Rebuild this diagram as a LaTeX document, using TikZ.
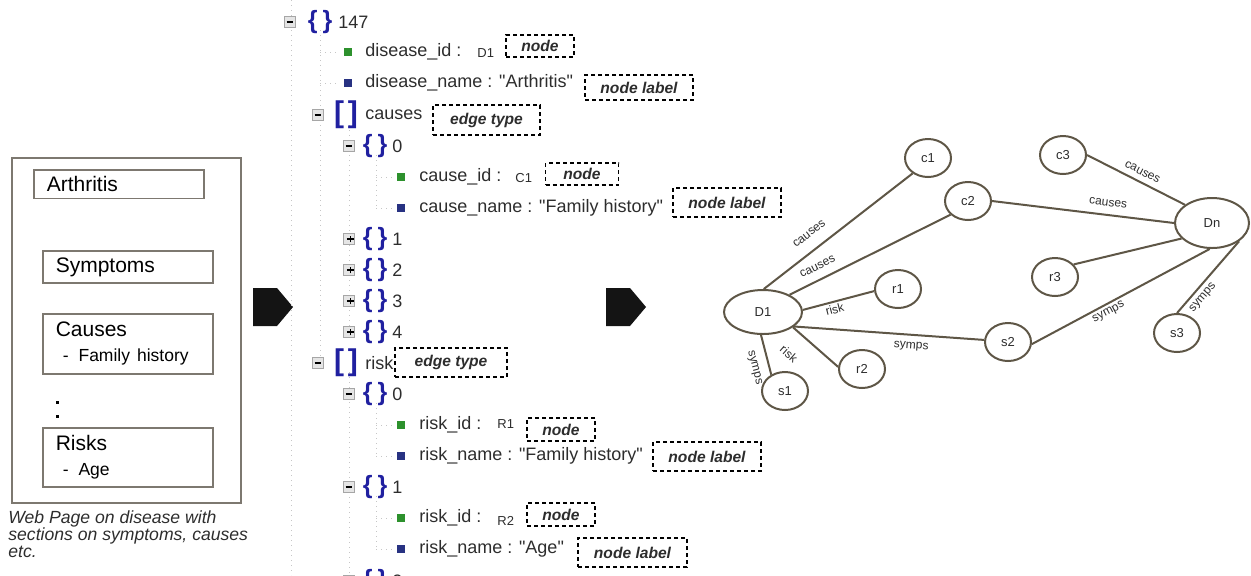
\documentclass[tikz,border=0pt]{standalone}
\usepackage{fontspec}
\setmainfont{Liberation Sans}
\usepackage{tikz}
\usetikzlibrary{shapes.geometric}
\usetikzlibrary{positioning}
\definecolor{edgecol}{RGB}{94,86,70}
\definecolor{boxcol}{RGB}{125,120,112}
\definecolor{bracecol}{RGB}{32,32,160}
\definecolor{leafgreen}{RGB}{45,145,45}
\definecolor{leafblue}{RGB}{40,50,130}
\definecolor{txtcol}{RGB}{45,45,45}
\newcommand{\tminus}{\rule{3.4pt}{0.7pt}}
\newcommand{\tplus}{\rule{3.4pt}{0.7pt}\hspace{-2.05pt}\rule[-1.35pt]{0.7pt}{3.4pt}\hspace{1.35pt}}
\newcommand{\qq}{\textquotedbl}
\tikzset{secbox/.style={draw=boxcol,line width=0.75pt,anchor=north west,minimum width=85pt,inner xsep=6.5pt,text width=72pt,align=left,font=\fontsize{10.5}{12}\selectfont},
tbox/.style={draw=gray!70,fill=gray!20,minimum size=5.5pt,inner sep=0pt},
brace/.style={text=bracecol,inner sep=0pt,font=\fontsize{12.5}{13}\bfseries},
bracket/.style={text=bracecol,inner sep=0pt,font=\fontsize{15}{15}\bfseries},
ttext/.style={anchor=west,inner sep=0pt,text=txtcol,font=\fontsize{9}{10}\selectfont},
idtext/.style={anchor=west,inner sep=0pt,text=txtcol,font=\fontsize{6.5}{7}\selectfont},
leaf/.style={minimum size=4pt,inner sep=0pt},
tag/.style={draw,dashed,dash pattern=on 2pt off 1.5pt,line width=0.6pt,inner sep=0pt,text=txtcol,font=\fontsize{7.8}{8}\bfseries\itshape},
guide/.style={draw=gray!45,dotted,line width=0.5pt},
gnode/.style={ellipse,draw=edgecol,line width=1pt,inner sep=0pt,minimum width=23pt,minimum height=19pt,text=txtcol,font=\fontsize{6.5}{7}\selectfont},
gedge/.style={draw=edgecol,line width=1pt},
elabel/.style={sloped,inner sep=1pt,text=txtcol,font=\fontsize{6}{7}\selectfont}}

\begin{document}
\begin{tikzpicture}[x=0.5pt,y=-0.5pt]
\useasboundingbox (0,0) rectangle (1251,575);
\clip (0,0) rectangle (1251,575);
\draw[boxcol,line width=0.75pt] (12,158) rectangle (241,503);
\node (sarth) at (33,169) [secbox,minimum height=13pt] {Arthritis};
\node (ssymp) at (42,250) [secbox,minimum height=11pt] {Symptoms};
\node (scause) at (42,313) [secbox,minimum height=30pt] {Causes\\[0.5pt]{\fontsize{8.75}{10}\selectfont\hspace*{3.5pt}-\hspace{5pt}Family history}};
\node (srisk) at (42,427) [secbox,minimum height=29.5pt] {Risks\\[0.5pt]{\fontsize{8.75}{10}\selectfont\hspace*{3.5pt}-\hspace{5pt}Age}};
\fill (55.5,400.5) rectangle ++(3,3);
\fill (55.5,414.5) rectangle ++(3,3);
\node (cap) at (8,510) [anchor=north west,align=left,inner sep=0pt,text=txtcol,font=\fontsize{8.8}{8.5}\itshape] {Web Page on disease with\\sections on symptoms, causes\\etc.};
\foreach \ax in {253,606}
  \fill[black!92] (\ax,288) -- ++(24,0) -- ++(16,19) -- ++(-16,19) -- ++(-24,0) -- cycle;
\draw[guide] (291,0) -- (291,575);
\draw[guide] (320,30) -- (320,363) (320,52) -- (338,52) (320,83) -- (338,83);
\draw[guide] (349,125) -- (349,332) (349,372) -- (349,575);
\foreach \yp in {146,394,487}
  \draw[guide] (376,\yp+9) -- (376,\yp+62) (376,\yp+31) -- (392,\yp+31) (376,\yp+62) -- (392,\yp+62);
\node (tg0) at (290,22) [tbox] {\tminus};
\node (br0) at (320,22) [brace] {\{\hspace{2.5pt}\}};
\node (k0) at (338,22) [ttext] {147};
\node (lf1) at (348,52) [leaf,fill=leafgreen] {};
\node (k1) at (365,52) [ttext] {disease\_id :};
\node (v1) at (477,53) [idtext] {D1};
\node (lf2) at (348,83) [leaf,fill=leafblue] {};
\node (k2) at (365,83) [ttext] {disease\_name : \qq Arthritis\qq};
\node (tgc) at (318,115) [tbox] {\tminus};
\node (brc) at (346,115) [bracket] {[\hspace{2pt}]};
\node (kc) at (365,115) [ttext] {causes};
\node (tgc0) at (349,146) [tbox] {\tminus};
\node (brc0) at (375,146) [brace] {\{\hspace{2.5pt}\}};
\node (kc0) at (392,146) [ttext] {0};
\node (lf3) at (401,177) [leaf,fill=leafgreen] {};
\node (k3) at (419,177) [ttext] {cause\_id :};
\node (v3) at (515,178) [idtext] {C1};
\node (lf4) at (401,208) [leaf,fill=leafblue] {};
\node (k4) at (419,208) [ttext] {cause\_name : \qq Family history\qq};
\foreach \k/\yy in {1/239,2/270,3/301,4/332} {
  \node (tgc\k) at (349,\yy) [tbox] {\tplus};
  \node (brc\k) at (375,\yy) [brace] {\{\hspace{2.5pt}\}};
  \node (kc\k) at (392,\yy) [ttext] {\k};
}
\node (tgr) at (318,363) [tbox] {\tminus};
\node (brr) at (346,363) [bracket] {[\hspace{2pt}]};
\node (kr) at (365,363) [ttext] {risk};
\node (tgr0) at (349,394) [tbox] {\tminus};
\node (brr0) at (375,394) [brace] {\{\hspace{2.5pt}\}};
\node (kr0) at (392,394) [ttext] {0};
\node (lf5) at (401,425) [leaf,fill=leafgreen] {};
\node (k5) at (419,425) [ttext] {risk\_id :};
\node (v5) at (497,424) [idtext] {R1};
\node (lf6) at (401,456) [leaf,fill=leafblue] {};
\node (k6) at (419,456) [ttext] {risk\_name : \qq Family history\qq};
\node (tgr1) at (349,487) [tbox] {\tminus};
\node (brr1) at (375,487) [brace] {\{\hspace{2.5pt}\}};
\node (kr1) at (392,487) [ttext] {1};
\node (lf7) at (401,518) [leaf,fill=leafgreen] {};
\node (k7) at (419,518) [ttext] {risk\_id :};
\node (v7) at (497,521) [idtext] {R2};
\node (lf8) at (401,549) [leaf,fill=leafblue] {};
\node (k8) at (419,549) [ttext] {risk\_name : \qq Age\qq};
\node (tgr2) at (349,581) [tbox] {\tminus};
\node (brr2) at (375,581) [brace] {\{\hspace{2.5pt}\}};
\node (kr2) at (392,581) [ttext] {2};
\foreach \n/\cx/\cy/\w/\h/\txt in {1/540/46/34/11/node,2/639/87.5/54/12.5/node label,3/486.5/120/53.5/15/edge type,4/582/174/36.5/11/node,5/727/202.5/54/14.5/node label,6/451/362.5/56/14.5/edge type,7/561/429.5/34/11.5/node,8/707/456.5/54/14.5/node label,9/561/514.5/34/11.5/node,10/632.5/552.5/54.5/14.5/node label}
  \node (tag\n) at (\cx,\cy) [tag,minimum width=\w pt,minimum height=\h pt] {\txt};
\node (c1) at (928,158) [gnode] {c1};
\node (c2) at (968,201) [gnode] {c2};
\node (r1) at (898,289) [gnode] {r1};
\node (d1) at (763,312) [gnode,minimum width=39pt,minimum height=22pt] {D1};
\node (r2) at (862,369) [gnode] {r2};
\node (s1) at (785,391) [gnode] {s1};
\node (c3) at (1063,155) [gnode] {c3};
\node (dn) at (1212,223) [gnode,minimum width=37pt,minimum height=25pt] {Dn};
\node (r3) at (1055,277) [gnode] {r3};
\node (s2) at (1008,342) [gnode] {s2};
\node (s3) at (1177,333) [gnode] {s3};
\draw[gedge] (d1.88) -- node[elabel,above=4.8pt,pos=0.37] {causes} (c1.225);
\draw[gedge] (d1.33) -- node[elabel,above=3.3pt,pos=0.21] {causes} (c2.218);
\draw[gedge] (d1.3) -- node[elabel,below,pos=0.42] {risk} (r1.185);
\draw[gedge] (d1.-27) -- node[elabel,below=7.6pt,pos=0.24] {risk} (r2.175);
\draw[gedge] (d1.265) -- node[elabel,below=3.6pt,pos=0.73] {symps} (s1.130);
\draw[gedge] (d1.-25) -- node[elabel,below=2.1pt,pos=0.62] {symps} (s2.175);
\draw[gedge] (c2.0) -- node[elabel,above=2.8pt,pos=0.63] {causes} (dn.180);
\draw[gedge] (c3.0) -- node[elabel,above=1.8pt,pos=0.52] {causes} (dn.146);
\draw[gedge] (r3.34) -- (dn.207);
\draw[gedge] (s2.-5) -- node[elabel,below=0.5pt,pos=0.41] {symps} (dn.265);
\draw[gedge] (s3.90) -- node[elabel,below=1.2pt,pos=0.30] {symps} (dn.-34);
\end{tikzpicture}
\end{document}
